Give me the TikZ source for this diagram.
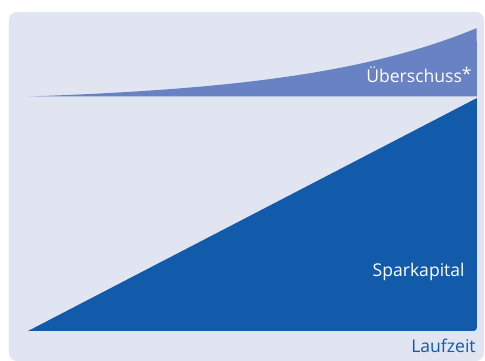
\documentclass[tikz,border=0pt]{standalone}
\usepackage{fontspec}
\setmainfont{Open Sans}
\usepackage{tikz}
\usetikzlibrary{positioning, calc}
\definecolor{bgGrey}{RGB}{225,229,242}
\definecolor{sparBlue}{RGB}{18,90,170}
\definecolor{plusBlue}{RGB}{104,130,196}
\tikzstyle{panel}=[fill=bgGrey, rounded corners=4.5pt]
\tikzstyle{capital}=[fill=sparBlue]
\tikzstyle{surplus}=[fill=plusBlue]
\tikzstyle{areaLabel}=[color=white, font=\fontsize{10}{12}\selectfont, inner sep=0pt, anchor=base east]
\tikzstyle{axisLabel}=[color=sparBlue, font=\fontsize{10}{12}\selectfont, inner sep=0pt, anchor=base east]

\begin{document}
\begin{tikzpicture}[x=0.02cm, y=-0.02cm]
      \useasboundingbox (0,0) rectangle (485,361);

      \coordinate (P1) at (9,12);
      \coordinate (P2) at (484,361);

      \coordinate (O) at (28,331);
      \coordinate (E) at (477,331);
      \coordinate (S) at (477,98);

      \coordinate (U0) at (28,96.5);
      \coordinate (U1) at (477,96.5);

      \fill[panel] (P1) rectangle (P2);

      \fill[capital] (O) [rounded corners=2pt] -- (E) [sharp corners] -- (S) -- cycle;

      % growth of the surplus
      \fill[surplus] (U0) -- plot[domain=0:1, samples=80]
        ({28+449*\x}, {96.5-68.5*(exp(2.5*\x)-1)/(exp(2.5)-1)}) -- (U1) -- cycle;

      \node[areaLabel] (ueber) at (472,83) {Überschuss\raisebox{1.5pt}{*}};
      \node[areaLabel] (spar) at (465,277) {Sparkapital};
      \node[axisLabel] (zeit) at (476,353) {Laufzeit};
    \end{tikzpicture}
\end{document}
